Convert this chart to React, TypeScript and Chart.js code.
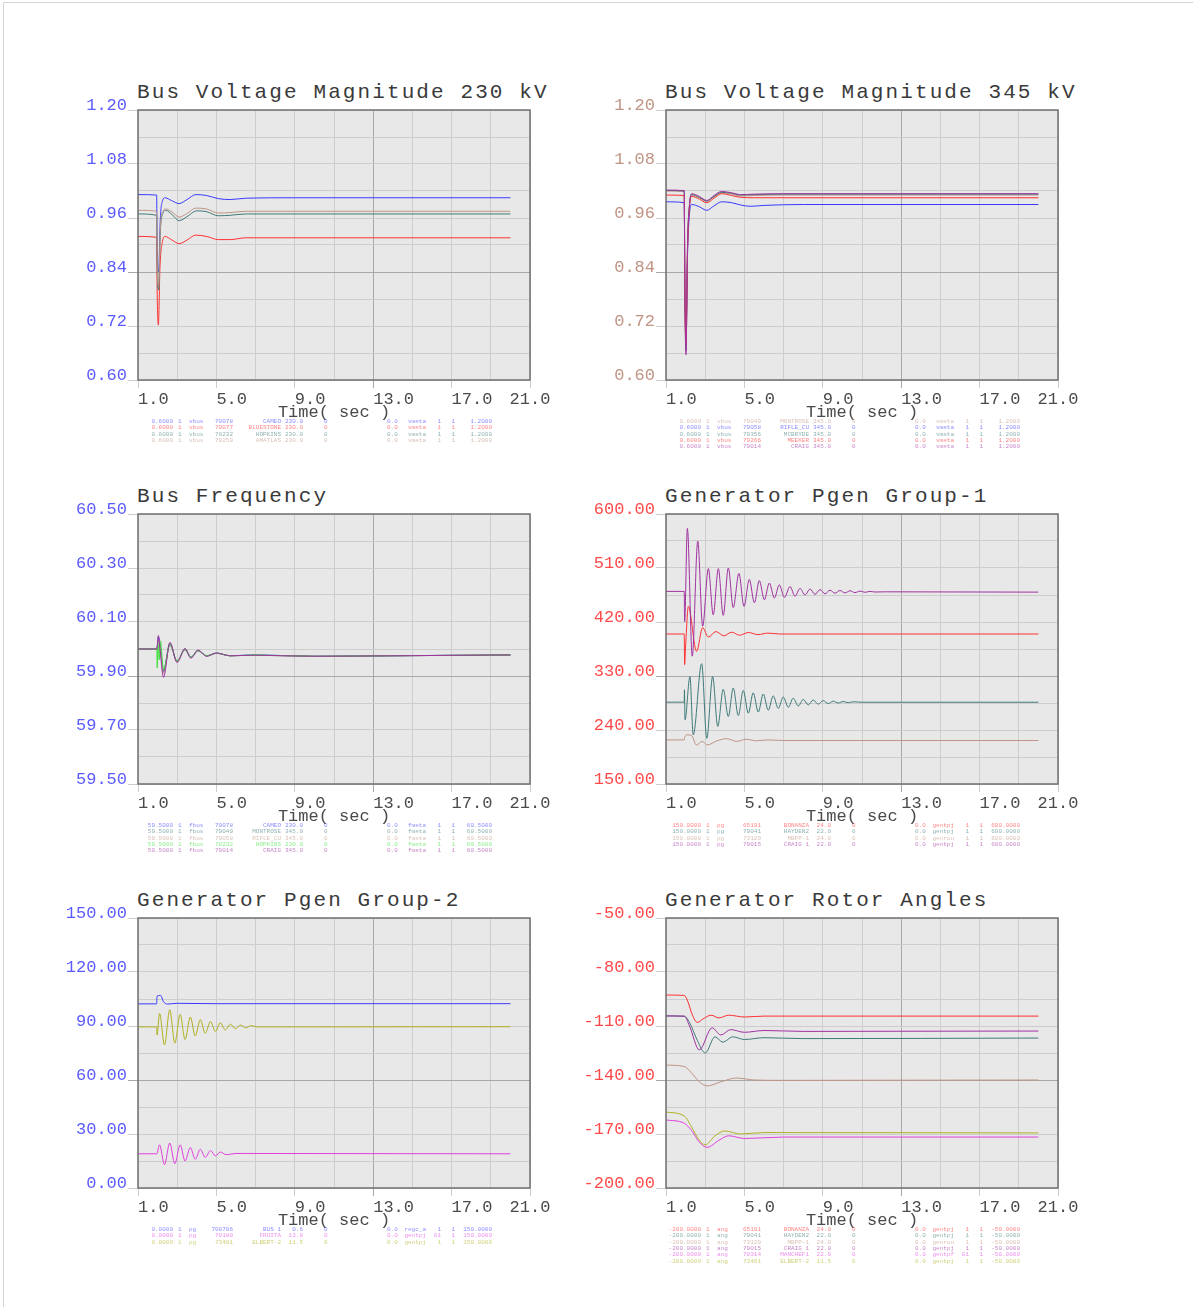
import React, { useEffect, useRef } from 'react';
import { Chart, registerables } from 'chart.js';

Chart.register(...registerables);

type Pt = [number, number];

const FONT = "'Liberation Mono', 'DejaVu Sans Mono', monospace";

const C_BLUE = '#3a3aff';
const C_RED = '#ff3030';
const C_TEAL = '#3f7b79';
const C_TAN = '#bf9585';
const C_PURPLE = '#a032a0';
const C_GREEN = '#40e040';
const C_MAGENTA = '#e040e0';
const C_OLIVE = '#b0b020';

const TICK_BLUE = '#5b5bff';
const TICK_TAN = '#c09484';
const TICK_RED = '#ff4a4a';

// x axis
const X_TICKS = [1, 3, 5, 7, 9, 11, 13, 15, 17, 19, 21];
const X_LABELS = [1, 5, 9, 13, 17, 21];

// ---------- Panel 1: Bus Voltage Magnitude 230 kV ----------
const P1_Y_TICKS = [0.6, 0.66, 0.72, 0.78, 0.84, 0.9, 0.96, 1.02, 1.08, 1.14, 1.2];
const P1_Y_LABELS = [0.6, 0.72, 0.84, 0.96, 1.08, 1.2];
const V230_CAMEO: Pt[] = [[1, 1.012], [1.95, 1.011], [1.98, 0.87], [2.05, 0.84], [2.14, 0.96], [2.25, 0.998], [2.38, 1.005], [2.7, 0.999], [3.1, 0.992], [3.5, 1.001], [3.95, 1.012], [4.5, 1.01], [5.1, 1.003], [5.7, 1.001], [6.5, 1.004], [9, 1.005], [20, 1.005]];
const V230_BLUESTONE: Pt[] = [[1, 0.919], [1.95, 0.917], [1.98, 0.79], [2.04, 0.722], [2.12, 0.85], [2.25, 0.908], [2.38, 0.919], [2.7, 0.912], [3.1, 0.903], [3.5, 0.911], [3.95, 0.922], [4.5, 0.919], [5.1, 0.912], [5.7, 0.912], [6.5, 0.916], [20, 0.916]];
const V230_HOPKINS: Pt[] = [[1, 0.969], [1.95, 0.966], [1.98, 0.85], [2.05, 0.8], [2.14, 0.93], [2.27, 0.97], [2.42, 0.977], [2.75, 0.967], [3.1, 0.954], [3.5, 0.963], [4.0, 0.976], [4.5, 0.974], [5.1, 0.965], [5.7, 0.966], [6.5, 0.969], [20, 0.969]];
const V230_AMATLAS: Pt[] = [[1, 0.977], [1.95, 0.975], [1.98, 0.86], [2.05, 0.81], [2.14, 0.94], [2.27, 0.975], [2.42, 0.98], [2.75, 0.973], [3.1, 0.962], [3.5, 0.97], [3.95, 0.982], [4.5, 0.98], [5.1, 0.971], [5.7, 0.972], [6.5, 0.975], [20, 0.975]];

// ---------- Panel 2: Bus Voltage Magnitude 345 kV ----------
const P2_Y_TICKS = P1_Y_TICKS;
const P2_Y_LABELS = P1_Y_LABELS;
const V345_MONTROSE: Pt[] = [[1, 1.02], [1.93, 1.019], [1.96, 0.82], [2.02, 0.67], [2.1, 0.9], [2.2, 0.99], [2.31, 1.01], [2.7, 1.005], [3.08, 0.997], [3.45, 1.007], [3.84, 1.016], [4.35, 1.013], [4.8, 1.009], [5.5, 1.01], [7, 1.011], [20, 1.011]];
const V345_RIFLE: Pt[] = [[1, 0.996], [1.93, 0.994], [1.96, 0.82], [2.02, 0.7], [2.1, 0.88], [2.2, 0.97], [2.31, 0.99], [2.7, 0.985], [3.08, 0.977], [3.45, 0.987], [3.84, 0.996], [4.35, 0.994], [4.8, 0.989], [5.3, 0.986], [6, 0.988], [8, 0.99], [20, 0.99]];
const V345_MCBRYDE: Pt[] = [[1, 1.021], [1.93, 1.02], [1.96, 0.81], [2.02, 0.665], [2.1, 0.9], [2.2, 0.99], [2.31, 1.012], [2.7, 1.006], [3.08, 0.998], [3.45, 1.008], [3.84, 1.017], [4.35, 1.015], [4.8, 1.011], [5.5, 1.012], [7, 1.013], [20, 1.013]];
const V345_MEEKER: Pt[] = [[1, 1.011], [1.93, 1.01], [1.96, 0.82], [2.02, 0.68], [2.1, 0.89], [2.2, 0.985], [2.31, 1.008], [2.7, 1.002], [3.08, 0.994], [3.45, 1.004], [3.84, 1.014], [4.35, 1.01], [4.8, 1.006], [5.5, 1.005], [20, 1.005]];
const V345_CRAIG: Pt[] = [[1, 1.022], [1.93, 1.021], [1.96, 0.8], [2.02, 0.656], [2.1, 0.9], [2.2, 0.99], [2.31, 1.014], [2.7, 1.008], [3.08, 0.999], [3.45, 1.01], [3.84, 1.019], [4.35, 1.016], [4.8, 1.012], [5.5, 1.013], [7, 1.014], [20, 1.014]];

// ---------- Panel 3: Bus Frequency ----------
const P3_Y_TICKS = [59.5, 59.6, 59.7, 59.8, 59.9, 60.0, 60.1, 60.2, 60.3, 60.4, 60.5];
const P3_Y_LABELS = [59.5, 59.7, 59.9, 60.1, 60.3, 60.5];
const F_CAMEO: Pt[] = [[1, 60.0], [1.96, 60.0], [2.04, 60.045], [2.12, 60.02], [2.3, 59.92], [2.63, 60.02], [2.99, 59.955], [3.4, 60.0], [3.7, 59.97], [4.06, 59.995], [4.5, 59.975], [5.0, 59.985], [5.7, 59.975], [7, 59.978], [10, 59.973], [14, 59.975], [20, 59.978]];
const F_MONTROSE: Pt[] = [[1, 60.0], [1.96, 60.0], [2.04, 60.03], [2.12, 60.01], [2.3, 59.915], [2.63, 60.015], [2.99, 59.955], [3.4, 59.997], [3.7, 59.968], [4.06, 59.993], [4.5, 59.974], [5.0, 59.984], [5.7, 59.975], [7, 59.977], [10, 59.973], [14, 59.975], [20, 59.978]];
const F_RIFLE: Pt[] = [[1, 60.0], [1.96, 60.0], [2.04, 60.035], [2.12, 60.015], [2.3, 59.91], [2.63, 60.018], [2.99, 59.952], [3.4, 59.998], [3.7, 59.969], [4.06, 59.994], [4.5, 59.974], [5.0, 59.985], [5.7, 59.975], [7, 59.977], [10, 59.973], [14, 59.975], [20, 59.978]];
const F_HOPKINS: Pt[] = [[1, 60.0], [1.96, 60.0], [1.98, 59.93], [2.02, 60.02], [2.08, 59.96], [2.14, 60.03], [2.3, 59.925], [2.63, 60.02], [2.99, 59.955], [3.4, 60.0], [3.7, 59.97], [4.06, 59.995], [4.5, 59.975], [5.0, 59.985], [5.7, 59.975], [7, 59.978], [10, 59.973], [14, 59.975], [20, 59.978]];
const F_CRAIG: Pt[] = [[1, 60.0], [1.96, 60.0], [2.04, 60.05], [2.12, 60.0], [2.3, 59.895], [2.63, 60.025], [2.99, 59.95], [3.4, 60.002], [3.7, 59.966], [4.06, 59.996], [4.5, 59.973], [5.0, 59.985], [5.7, 59.975], [7, 59.977], [10, 59.973], [14, 59.975], [20, 59.978]];

// ---------- Panel 4: Generator Pgen Group-1 ----------
const P4_Y_TICKS = [150, 195, 240, 285, 330, 375, 420, 465, 510, 555, 600];
const P4_Y_LABELS = [150, 240, 330, 420, 510, 600];
const PG1_BONANZA: Pt[] = [[1, 400], [1.93, 400], [1.95, 349], [2.0, 380], [2.14, 446], [2.56, 371], [2.87, 410.5], [3.16, 395], [3.55, 404], [3.95, 397], [4.35, 403], [4.75, 398], [5.2, 402.5], [5.7, 399], [6.2, 401.5], [6.8, 400], [20, 400]];
const PG1_HAYDEN2: Pt[] = [[1, 286.4], [1.93, 286.4], [1.94, 307], [1.97, 257], [2.22, 329], [2.39, 232], [2.82, 350.5], [3.08, 226], [3.38, 329], [3.64, 246], [3.92, 308], [4.18, 262.5], [4.43, 310], [4.69, 264], [4.94, 306], [5.2, 268], [5.45, 302], [5.71, 270], [5.96, 300], [6.22, 273], [6.47, 297], [6.73, 276], [6.98, 295], [7.24, 278], [7.49, 293], [7.75, 280], [8.0, 291], [8.26, 282], [8.51, 290], [8.77, 283], [9.02, 289], [9.28, 284], [9.53, 288], [9.79, 285], [10.04, 287.5], [10.3, 285.5], [10.55, 287], [11, 286.3], [20, 286.3]];
const PG1_MBPP1: Pt[] = [[1, 223.5], [1.93, 223.5], [1.95, 227], [2.05, 232], [2.3, 231], [2.55, 215], [2.85, 221], [3.1, 215], [3.6, 222], [4.1, 225.5], [4.6, 221], [5.1, 224.5], [5.6, 222], [6.2, 223.5], [7, 222.5], [20, 222.5]];
const PG1_CRAIG1: Pt[] = [[1, 471], [1.93, 471], [1.95, 420], [2.09, 576], [2.34, 363], [2.62, 555], [2.87, 413], [3.16, 509], [3.41, 432], [3.67, 509], [3.92, 431], [4.18, 510], [4.43, 444], [4.72, 501], [4.98, 446], [5.25, 491], [5.51, 452], [5.76, 489], [6.02, 457], [6.27, 485], [6.53, 460], [6.78, 482], [7.04, 461], [7.33, 479], [7.58, 463], [7.84, 476], [8.09, 465], [8.35, 475], [8.6, 466], [8.86, 474], [9.11, 467], [9.37, 473], [9.62, 468], [9.88, 472.5], [10.13, 468.5], [10.39, 472], [10.64, 469], [10.9, 471.5], [11.15, 469.5], [11.41, 471], [11.66, 470], [12.2, 470.3], [20, 469.8]];

// ---------- Panel 5: Generator Pgen Group-2 ----------
const P5_Y_TICKS = [0, 15, 30, 45, 60, 75, 90, 105, 120, 135, 150];
const P5_Y_LABELS = [0, 30, 60, 90, 120, 150];
const PG2_BUS1: Pt[] = [[1, 102.3], [1.95, 102.3], [1.97, 106.5], [2.15, 107], [2.3, 103.5], [2.5, 102.2], [3, 102.6], [5, 102.4], [20, 102.4]];
const PG2_FRUITA: Pt[] = [[1, 19], [1.96, 19], [2.1, 24], [2.35, 13], [2.62, 25], [2.88, 13.5], [3.15, 24], [3.4, 15], [3.67, 22.5], [3.92, 16], [4.18, 21.5], [4.43, 17], [4.7, 20.8], [4.95, 17.8], [5.2, 20], [5.5, 18.5], [6, 19.2], [20, 19]];
const PG2_ELBERT2: Pt[] = [[1, 89.5], [1.95, 89.5], [1.97, 85], [2.1, 97], [2.35, 79.5], [2.62, 99], [2.88, 80.5], [3.15, 96.5], [3.4, 82.5], [3.67, 95], [3.92, 84.5], [4.18, 93.5], [4.43, 86], [4.7, 92.5], [4.95, 87], [5.2, 91.8], [5.45, 87.8], [5.72, 91], [5.97, 88.5], [6.23, 90.5], [6.5, 89], [6.75, 90.2], [7.1, 89.5], [20, 89.6]];

// ---------- Panel 6: Generator Rotor Angles ----------
const P6_Y_TICKS = [-200, -185, -170, -155, -140, -125, -110, -95, -80, -65, -50];
const P6_Y_LABELS = [-200, -170, -140, -110, -80, -50];
const ANG_BONANZA: Pt[] = [[1, -92.8], [1.93, -93], [2.1, -96], [2.35, -104], [2.6, -108], [2.9, -106], [3.3, -104], [3.7, -105.5], [4.2, -104], [5, -105], [6, -104.5], [20, -104.5]];
const ANG_HAYDEN2: Pt[] = [[1, -104.4], [1.93, -104.6], [2.2, -108], [2.6, -118], [3.0, -125], [3.5, -116], [3.9, -119], [4.4, -116], [5, -117.5], [6, -116.5], [8, -117], [20, -116.7]];
const ANG_MBPP1: Pt[] = [[1, -131.7], [1.93, -132.5], [2.3, -136], [2.7, -141], [3.1, -143.3], [3.8, -141], [4.6, -138.9], [5.5, -140], [7, -140.2], [20, -140]];
const ANG_CRAIG1: Pt[] = [[1, -104.4], [1.93, -104.5], [2.2, -110], [2.7, -123.3], [3.35, -111], [3.8, -115], [4.3, -112], [5, -113.5], [6, -112.5], [8, -113], [20, -112.8]];
const ANG_MANCHEF1: Pt[] = [[1, -162.2], [1.93, -164], [2.3, -168], [2.7, -174.5], [3.1, -177.4], [3.7, -173.5], [4.2, -171], [5, -172.5], [7, -171.7], [20, -171.7]];
const ANG_ELBERT2: Pt[] = [[1, -157.8], [1.93, -160], [2.3, -166], [2.7, -173.5], [3.0, -176], [3.5, -171], [4.0, -168.3], [4.8, -170], [6, -169.2], [20, -169.4]];

// ---------- legend rows ----------
const LEG_P1 = [
  ['0.6000', '1', 'vbus', '70078', 'CAMEO', '230.0', '0', '0.0', 'vmeta', '1', '1', '1.2000'],
  ['0.6000', '1', 'vbus', '70077', 'BLUESTONE', '230.0', '0', '0.0', 'vmeta', '1', '1', '1.2000'],
  ['0.6000', '1', 'vbus', '70232', 'HOPKINS', '230.0', '0', '0.0', 'vmeta', '1', '1', '1.2000'],
  ['0.6000', '1', 'vbus', '79250', 'AMATLAS', '230.0', '0', '0.0', 'vmeta', '1', '1', '1.2000'],
];
const LEG_P2 = [
  ['0.6000', '1', 'vbus', '79049', 'MONTROSE', '345.0', '0', '0.0', 'vmeta', '1', '1', '1.2000'],
  ['0.6000', '1', 'vbus', '79058', 'RIFLE_CU', '345.0', '0', '0.0', 'vmeta', '1', '1', '1.2000'],
  ['0.6000', '1', 'vbus', '79356', 'MCBRYDE', '345.0', '0', '0.0', 'vmeta', '1', '1', '1.2000'],
  ['0.6000', '1', 'vbus', '79266', 'MEEKER', '345.0', '0', '0.0', 'vmeta', '1', '1', '1.2000'],
  ['0.6000', '1', 'vbus', '79014', 'CRAIG', '345.0', '0', '0.0', 'vmeta', '1', '1', '1.2000'],
];
const LEG_P3 = [
  ['59.5000', '1', 'fbus', '70078', 'CAMEO', '230.0', '0', '0.0', 'fmeta', '1', '1', '60.5000'],
  ['59.5000', '1', 'fbus', '79049', 'MONTROSE', '345.0', '0', '0.0', 'fmeta', '1', '1', '60.5000'],
  ['59.5000', '1', 'fbus', '79058', 'RIFLE_CU', '345.0', '0', '0.0', 'fmeta', '1', '1', '60.5000'],
  ['59.5000', '1', 'fbus', '70232', 'HOPKINS', '230.0', '0', '0.0', 'fmeta', '1', '1', '60.5000'],
  ['59.5000', '1', 'fbus', '79014', 'CRAIG', '345.0', '0', '0.0', 'fmeta', '1', '1', '60.5000'],
];
const LEG_P4 = [
  ['150.0000', '1', 'pg', '65191', 'BONANZA', '24.0', '0', '0.0', 'gentpj', '1', '1', '600.0000'],
  ['150.0000', '1', 'pg', '79041', 'HAYDEN2', '22.0', '0', '0.0', 'gentpj', '1', '1', '600.0000'],
  ['150.0000', '1', 'pg', '73129', 'MBPP-1', '24.0', '0', '0.0', 'genrou', '1', '1', '600.0000'],
  ['150.0000', '1', 'pg', '79015', 'CRAIG 1', '22.0', '0', '0.0', 'gentpj', '1', '1', '600.0000'],
];
const LEG_P5 = [
  ['0.0000', '1', 'pg', '700706', 'BUS 1', '0.6', '0', '0.0', 'regc_a', '1', '1', '150.0000'],
  ['0.0000', '1', 'pg', '70180', 'FRUITA', '13.8', '0', '0.0', 'gentpj', 'G1', '1', '150.0000'],
  ['0.0000', '1', 'pg', '73461', 'ELBERT-2', '11.5', '0', '0.0', 'gentpj', '1', '1', '150.0000'],
];
const LEG_P6 = [
  ['-200.0000', '1', 'ang', '65191', 'BONANZA', '24.0', '0', '0.0', 'gentpj', '1', '1', '-50.0000'],
  ['-200.0000', '1', 'ang', '79041', 'HAYDEN2', '22.0', '0', '0.0', 'gentpj', '1', '1', '-50.0000'],
  ['-200.0000', '1', 'ang', '73129', 'MBPP-1', '24.0', '0', '0.0', 'genrou', '1', '1', '-50.0000'],
  ['-200.0000', '1', 'ang', '79015', 'CRAIG 1', '22.0', '0', '0.0', 'gentpj', '1', '1', '-50.0000'],
  ['-200.0000', '1', 'ang', '70314', 'MANCHEF1', '22.0', '0', '0.0', 'gentpf', 'G1', '1', '-50.0000'],
  ['-200.0000', '1', 'ang', '73461', 'ELBERT-2', '11.5', '0', '0.0', 'gentpj', '1', '1', '-50.0000'],
];

// legend column layout: [offset from plot left, alignment]
const LEG_COLS: [number, 'l' | 'r'][] = [[35, 'r'], [40, 'l'], [51, 'l'], [95, 'r'], [143, 'r'], [165, 'r'], [186, 'l'], [249, 'l'], [288, 'r'], [303, 'r'], [317, 'r'], [354, 'r']];

type Series = { data: Pt[]; color: string; leg: string[] };
type PanelCfg = {
  left: number; top: number; title: string;
  yTicks: number[]; yLabels: number[]; tickColor: string;
  series: Series[];
};

const PLOT_W = 392;
const PLOT_H = 270;
const Y_AXIS_W = 92;
const PAD_TOP = 16;
const PAD_RIGHT = 60;
const X_AXIS_H = 46;

const PANELS: PanelCfg[] = [
  {
    left: 138, top: 110, title: 'Bus Voltage Magnitude 230 kV', yTicks: P1_Y_TICKS, yLabels: P1_Y_LABELS, tickColor: TICK_BLUE,
    series: [
      { data: V230_CAMEO, color: C_BLUE, leg: LEG_P1[0] },
      { data: V230_BLUESTONE, color: C_RED, leg: LEG_P1[1] },
      { data: V230_HOPKINS, color: C_TEAL, leg: LEG_P1[2] },
      { data: V230_AMATLAS, color: C_TAN, leg: LEG_P1[3] },
    ],
  },
  {
    left: 666, top: 110, title: 'Bus Voltage Magnitude 345 kV', yTicks: P2_Y_TICKS, yLabels: P2_Y_LABELS, tickColor: TICK_TAN,
    series: [
      { data: V345_MONTROSE, color: C_TAN, leg: LEG_P2[0] },
      { data: V345_RIFLE, color: C_BLUE, leg: LEG_P2[1] },
      { data: V345_MCBRYDE, color: C_TEAL, leg: LEG_P2[2] },
      { data: V345_MEEKER, color: C_RED, leg: LEG_P2[3] },
      { data: V345_CRAIG, color: C_PURPLE, leg: LEG_P2[4] },
    ],
  },
  {
    left: 138, top: 514, title: 'Bus Frequency', yTicks: P3_Y_TICKS, yLabels: P3_Y_LABELS, tickColor: TICK_BLUE,
    series: [
      { data: F_CAMEO, color: C_BLUE, leg: LEG_P3[0] },
      { data: F_MONTROSE, color: C_TEAL, leg: LEG_P3[1] },
      { data: F_RIFLE, color: C_TAN, leg: LEG_P3[2] },
      { data: F_HOPKINS, color: C_GREEN, leg: LEG_P3[3] },
      { data: F_CRAIG, color: C_PURPLE, leg: LEG_P3[4] },
    ],
  },
  {
    left: 666, top: 514, title: 'Generator Pgen Group-1', yTicks: P4_Y_TICKS, yLabels: P4_Y_LABELS, tickColor: TICK_RED,
    series: [
      { data: PG1_BONANZA, color: C_RED, leg: LEG_P4[0] },
      { data: PG1_HAYDEN2, color: C_TEAL, leg: LEG_P4[1] },
      { data: PG1_MBPP1, color: C_TAN, leg: LEG_P4[2] },
      { data: PG1_CRAIG1, color: C_PURPLE, leg: LEG_P4[3] },
    ],
  },
  {
    left: 138, top: 918, title: 'Generator Pgen Group-2', yTicks: P5_Y_TICKS, yLabels: P5_Y_LABELS, tickColor: TICK_BLUE,
    series: [
      { data: PG2_BUS1, color: C_BLUE, leg: LEG_P5[0] },
      { data: PG2_FRUITA, color: C_MAGENTA, leg: LEG_P5[1] },
      { data: PG2_ELBERT2, color: C_OLIVE, leg: LEG_P5[2] },
    ],
  },
  {
    left: 666, top: 918, title: 'Generator Rotor Angles', yTicks: P6_Y_TICKS, yLabels: P6_Y_LABELS, tickColor: TICK_RED,
    series: [
      { data: ANG_BONANZA, color: C_RED, leg: LEG_P6[0] },
      { data: ANG_HAYDEN2, color: C_TEAL, leg: LEG_P6[1] },
      { data: ANG_MBPP1, color: C_TAN, leg: LEG_P6[2] },
      { data: ANG_CRAIG1, color: C_PURPLE, leg: LEG_P6[3] },
      { data: ANG_MANCHEF1, color: C_MAGENTA, leg: LEG_P6[4] },
      { data: ANG_ELBERT2, color: C_OLIVE, leg: LEG_P6[5] },
    ],
  },
];

const has = (arr: number[], v: number) => arr.some((a) => Math.abs(a - v) < 1e-9);

// plot background + frame + x tick labels (placed on the x scale's pixels)
const framePlugin = {
  id: 'frame',
  beforeDraw(chart: any) {
    const { ctx, chartArea: a } = chart;
    ctx.save();
    ctx.fillStyle = '#e8e8e8';
    ctx.fillRect(a.left, a.top, a.right - a.left, a.bottom - a.top);
    ctx.restore();
  },
  afterDraw(chart: any) {
    const { ctx, chartArea: a } = chart;
    ctx.save();
    ctx.strokeStyle = '#707070';
    ctx.lineWidth = 1.5;
    ctx.strokeRect(a.left, a.top, a.right - a.left, a.bottom - a.top);
    const xs = chart.scales.x;
    ctx.fillStyle = '#4a4a4a';
    ctx.font = `17px ${FONT}`;
    ctx.textBaseline = 'middle';
    X_LABELS.forEach((v, i) => {
      const px = xs.getPixelForValue(v);
      ctx.textAlign = i === X_LABELS.length - 1 ? 'center' : 'left';
      ctx.fillText(v.toFixed(1), px, a.bottom + 19.5);
    });
    ctx.restore();
  },
};

function Panel({ cfg }: { cfg: PanelCfg }) {
  const ref = useRef<HTMLCanvasElement>(null);
  const cw = Y_AXIS_W + PLOT_W + PAD_RIGHT;
  const chh = PAD_TOP + PLOT_H + X_AXIS_H;
  useEffect(() => {
    if (!ref.current) return;
    const n = cfg.series.length;
    const chart = new Chart(ref.current, {
      type: 'line',
      data: {
        datasets: cfg.series.map((s, i) => ({
          data: s.data.map(([x, y]) => ({ x, y })),
          borderColor: s.color,
          borderWidth: 1,
          pointRadius: 0,
          fill: false,
          order: n - i,
          cubicInterpolationMode: 'monotone' as const,
        })),
      },
      options: {
        responsive: false,
        animation: false,
        events: [],
        layout: { padding: { top: PAD_TOP, right: PAD_RIGHT, left: 0, bottom: 0 } },
        plugins: { legend: { display: false }, tooltip: { enabled: false }, title: { display: false } },
        scales: {
          x: {
            type: 'linear',
            min: 1,
            max: 21,
            afterFit: (s: any) => { s.height = X_AXIS_H; },
            afterBuildTicks: (s: any) => { s.ticks = X_TICKS.map((v) => ({ value: v })); },
            ticks: { display: false, autoSkip: false, maxRotation: 0, minRotation: 0 },
            grid: {
              color: (c: any) => (c.index === 6 ? '#a8a8a8' : '#cdcdcd'),
              tickLength: 8,
              tickColor: (c: any) => (c.index % 2 === 0 ? (c.index === 6 ? '#a8a8a8' : '#cdcdcd') : 'rgba(0,0,0,0)'),
            },
            border: { display: false },
            title: {
              display: true,
              text: 'Time( sec )',
              color: '#4a4a4a',
              font: { family: FONT, size: 17 },
              padding: { top: 0, bottom: 3 },
            },
          },
          y: {
            type: 'linear',
            min: cfg.yTicks[0],
            max: cfg.yTicks[cfg.yTicks.length - 1],
            afterFit: (s: any) => { s.width = Y_AXIS_W; },
            afterBuildTicks: (s: any) => { s.ticks = cfg.yTicks.map((v) => ({ value: v })); },
            ticks: {
              autoSkip: false,
              padding: 1,
              labelOffset: -5,
              color: cfg.tickColor,
              font: { family: FONT, size: 17 },
              callback: (v: any) => (has(cfg.yLabels, Number(v)) ? Number(v).toFixed(2) : ''),
            },
            grid: {
              color: (c: any) => (c.index === 4 ? '#a8a8a8' : '#cdcdcd'),
              tickLength: 10,
              tickColor: (c: any) => (c.index % 2 === 0 ? (c.index === 4 ? '#a8a8a8' : '#cdcdcd') : 'rgba(0,0,0,0)'),
            },
            border: { display: false },
          },
        },
      } as any,
      plugins: [framePlugin],
    });
    return () => chart.destroy();
  }, [cfg]);

  return (
    <>
      <div
        style={{
          position: 'absolute', left: cfg.left - 1, top: cfg.top - 28, whiteSpace: 'pre',
          fontFamily: FONT, fontSize: 21, lineHeight: '21px', letterSpacing: '2.1px', color: '#3a3a3a',
        }}
      >
        {cfg.title}
      </div>
      <canvas
        ref={ref}
        width={cw}
        height={chh}
        style={{ position: 'absolute', left: cfg.left - Y_AXIS_W, top: cfg.top - PAD_TOP, width: cw, height: chh }}
      />
      {cfg.series.map((s, i) => (
        <div
          key={i}
          style={{
            position: 'absolute', left: cfg.left, top: cfg.top + PLOT_H + 42 + 6.3 * i - 2.9, height: 7, width: 360,
            fontFamily: FONT, fontSize: 6, lineHeight: '6.3px', color: s.color, whiteSpace: 'pre', opacity: 0.6,
          }}
        >
          {s.leg.map((txt, j) => {
            const [off, al] = LEG_COLS[j];
            return al === 'l' ? (
              <span key={j} style={{ position: 'absolute', left: off, top: 0 }}>{txt}</span>
            ) : (
              <span key={j} style={{ position: 'absolute', left: off - 100, width: 100, top: 0, textAlign: 'right' }}>{txt}</span>
            );
          })}
        </div>
      ))}
    </>
  );
}

export default function App() {
  return (
    <div style={{ position: 'absolute', left: 0, top: 0, width: 1193, height: 1307, overflow: 'hidden', background: '#fff' }}>
      <div style={{ position: 'absolute', left: 3, top: 2, width: 1220, height: 1340, border: '1px solid #d4d4d4' }} />
      {PANELS.map((p, i) => (
        <Panel key={i} cfg={p} />
      ))}
    </div>
  );
}
